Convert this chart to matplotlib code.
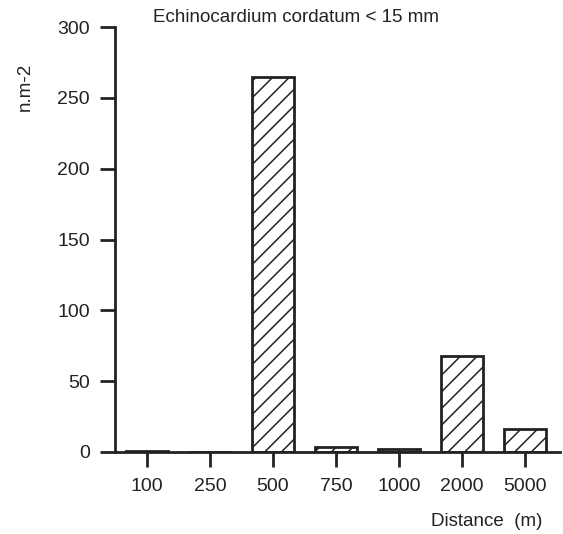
import matplotlib
matplotlib.use("Agg")
import matplotlib.pyplot as plt

categories = ["100", "250", "500", "750", "1000", "2000", "5000"]
values = [1, 0, 265, 3.5, 2, 68, 16]
yticks = [0, 50, 100, 150, 200, 250, 300]

plt.rcParams['font.family'] = ['Liberation Sans', 'DejaVu Sans']
plt.rcParams['hatch.linewidth'] = 1.1
plt.rcParams['hatch.color'] = '#222222'

fig = plt.figure(figsize=(5.63, 5.34), dpi=100)
ax = fig.add_axes([115/563, 1-452/534, 445/563, 425/534])

x = list(range(len(categories)))
ax.bar(x, values, width=0.67, color='white', edgecolor='#222222', linewidth=2, hatch='//')

ax.set_xlim(-0.51, 6.56)
ax.set_ylim(0, 300)
ax.set_xticks(x)
ax.set_xticklabels(categories)
ax.set_yticks(yticks)
for s in ['top', 'right']:
    ax.spines[s].set_visible(False)
for s in ['left', 'bottom']:
    ax.spines[s].set_linewidth(2)
    ax.spines[s].set_color('#222222')
ax.tick_params(axis='both', length=11, width=2, color='#222222', labelsize=14, labelcolor='#222222')
ax.tick_params(axis='x', pad=8)
ax.tick_params(axis='y', pad=7)

fig.text(296/563, 1-18/534, "Echinocardium cordatum < 15 mm", ha='center', va='center', fontsize=13.5, color='#222222')
fig.text(25/563, 1-87/534, "n.m-2", rotation=90, ha='center', va='center', fontsize=13.5, color='#222222')
fig.text(487/563, 1-522/534, "Distance  (m)", ha='center', va='center', fontsize=13.5, color='#222222')

fig.savefig("out.png", dpi=100)
